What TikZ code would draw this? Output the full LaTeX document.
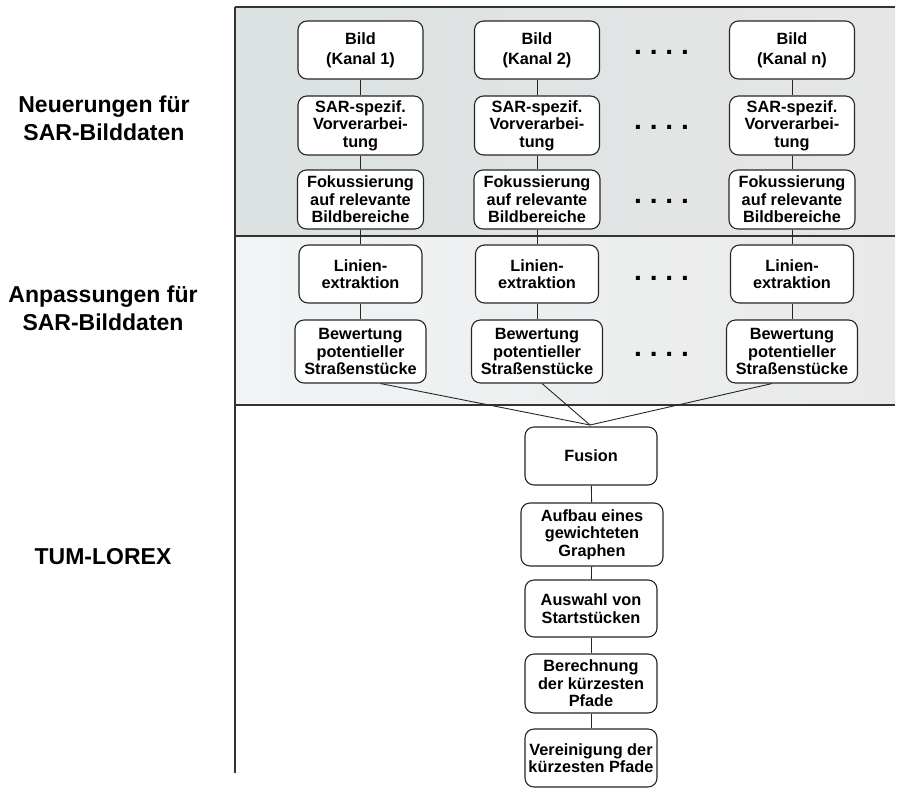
\documentclass[tikz,border=0pt]{standalone}
\usepackage{fontspec}
\setmainfont{Liberation Sans}
\begin{document}
\begin{tikzpicture}[x=1pt,y=-1pt,
  box/.style={draw=black!85,line width=1.1pt,rounded corners=9pt,fill=white,align=center,inner sep=0pt,
    font=\fontsize{16.3}{17.5}\selectfont\bfseries},
  conn/.style={draw=black!85,line width=0.9pt},
  band/.style={draw=black!80,line width=1.8pt},
  sidelabel/.style={align=center,font=\fontsize{23}{28}\selectfont\bfseries},
  dots/.style={anchor=base,inner sep=0pt,font=\fontsize{28}{30}\selectfont\bfseries}]
\useasboundingbox (0,0) rectangle (897,801);
% bands
\shade[left color={rgb,255:red,219;green,226;blue,225},right color={rgb,255:red,230;green,230;blue,230}] (235,7) rectangle (895,236);
\shade[left color={rgb,255:red,241;green,244;blue,245},right color={rgb,255:red,233;green,233;blue,233}] (235,236) rectangle (895,405);
\draw[band] (235,7) -- (895,7);
\draw[band] (235,236) -- (895,236);
\draw[band] (235,405) -- (895,405);
\draw[band] (235,7) -- (235,773);
% side labels
\node[sidelabel] (l1) at (104,118) {Neuerungen für\\SAR-Bilddaten};
\node[sidelabel] (l2) at (103,308) {Anpassungen für\\SAR-Bilddaten};
\node[sidelabel] (l3) at (103,557) {TUM-LOREX};
% columns
\foreach \c/\x/\k in {1/360.5/1,2/537/2,3/792/n}{
  \node[box,minimum width=125pt,minimum height=58pt,font=\fontsize{16.3}{20}\selectfont\bfseries] (bild\c) at (\x,50) {Bild\\(Kanal \k)};
  \node[box,minimum width=125pt,minimum height=59pt] (sar\c) at (\x,125.5) {SAR-spezif.\\Vorverarbei-\\tung};
  \node[box,minimum width=126pt,minimum height=59pt] (fok\c) at (\x,199.5) {Fokussierung\\auf relevante\\Bildbereiche};
  \node[box,minimum width=123pt,minimum height=58pt] (lin\c) at (\x,274) {Linien-\\extraktion};
  \node[box,minimum width=131pt,minimum height=63pt] (bew\c) at (\x,351.5) {Bewertung\\potentieller\\Straßenstücke};
  \draw[conn] (bild\c) -- (sar\c);
  \draw[conn] (sar\c) -- (fok\c);
  \draw[conn] (fok\c) -- (lin\c);
  \draw[conn] (lin\c) -- (bew\c);
}
% dots
\foreach \y/\n in {52/a,127/b,201/c,278/d,354/e}{
  \node[dots] (dot\n) at (661.5,\y+2) {.\hspace{7.9pt}.\hspace{7.9pt}.\hspace{7.9pt}.};
}
% fusion column
\node[box,minimum width=132pt,minimum height=58pt] (fus) at (591,456) {Fusion};
\node[box,minimum width=142pt,minimum height=63pt] (auf) at (592,534.5) {Aufbau eines\\gewichteten\\Graphen};
\node[box,minimum width=132pt,minimum height=57pt] (ausw) at (591,608.5) {Auswahl von\\Startstücken};
\node[box,minimum width=132pt,minimum height=59pt] (ber) at (591,683.5) {Berechnung\\der kürzesten\\Pfade};
\node[box,minimum width=132pt,minimum height=58pt] (ver) at (591,758) {Vereinigung der\\kürzesten Pfade};
\coordinate (conv) at (590,425);
\draw[conn] ([xshift=20pt]bew1.south) -- (conv);
\draw[conn] ([xshift=5pt]bew2.south) -- (conv);
\draw[conn] ([xshift=-20pt]bew3.south) -- (conv);
\draw[conn] (fus) -- (auf);
\draw[conn] (auf) -- (ausw);
\draw[conn] (ausw) -- (ber);
\draw[conn] (ber) -- (ver);
\end{tikzpicture}
\end{document}
